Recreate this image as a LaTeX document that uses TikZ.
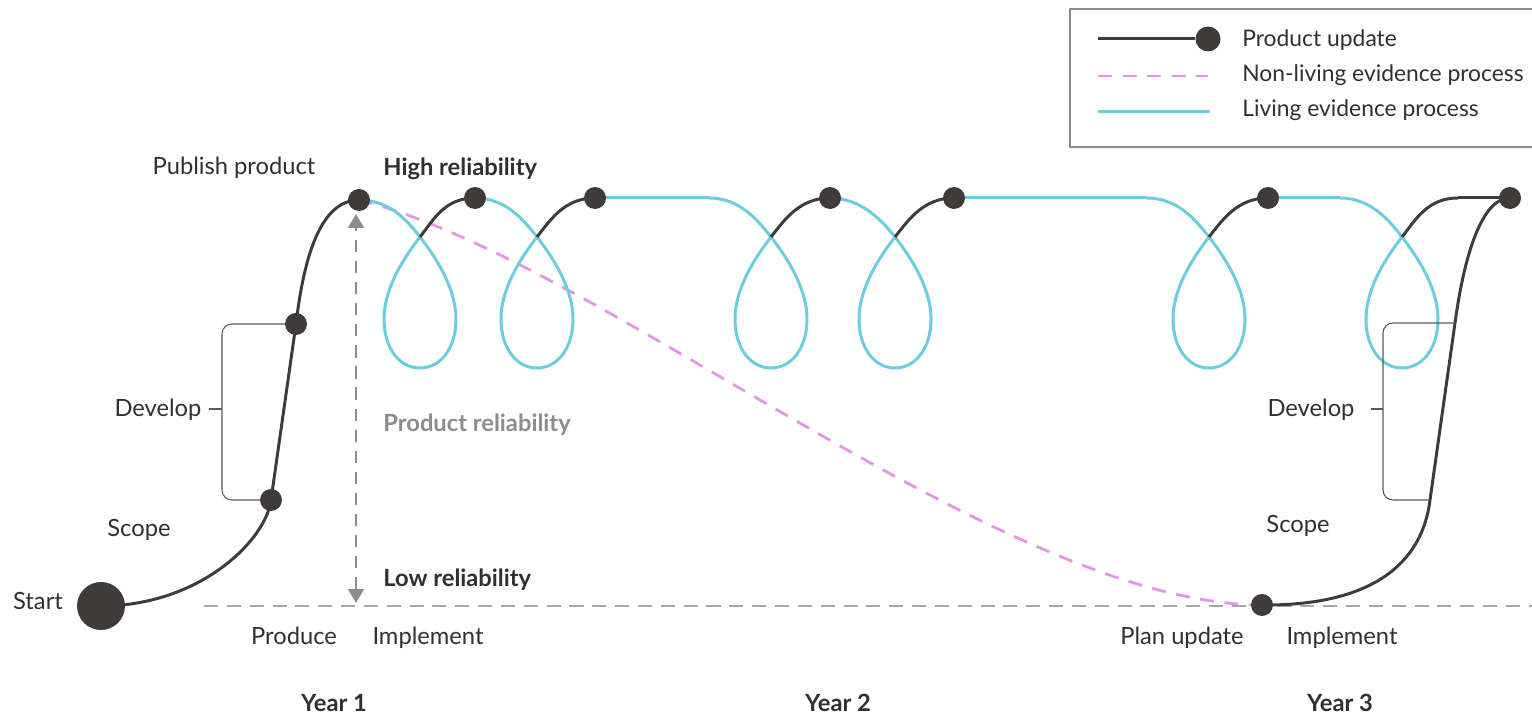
\documentclass[tikz,border=0pt]{standalone}
\usepackage{fontspec}
\setmainfont{Lato}
\usetikzlibrary{arrows.meta,calc}
\pgfdeclarelayer{back}
\pgfsetlayers{back,main}
\definecolor{inkdark}{RGB}{64,59,59}
\definecolor{livingblue}{RGB}{108,205,224}
\definecolor{nonlivingpink}{RGB}{228,150,226}
\definecolor{guidegray}{RGB}{168,168,168}
\definecolor{labelgray}{RGB}{140,140,140}

\begin{document}
\begin{tikzpicture}[x=0.02cm,y=-0.02cm,
        update/.style = {draw=inkdark, line width=1.7pt},
        living/.style = {draw=livingblue, line width=1.7pt},
        nonliving/.style = {draw=nonlivingpink, line width=1.6pt, dash pattern=on 8pt off 6pt},
        baseline/.style = {draw=guidegray, line width=1.1pt, dash pattern=on 8pt off 5pt},
        arrow/.style = {draw=labelgray, line width=1.1pt, dash pattern=on 7pt off 5pt,
            {Triangle[width=0.32cm,length=0.28cm]}-{Triangle[width=0.32cm,length=0.28cm]}},
        dot/.style = {circle, fill=inkdark, inner sep=0pt, minimum size=0.44cm},
        bracket/.style = {draw=inkdark!85, line width=0.6pt, rounded corners=0.2cm},
        lbl/.style = {anchor=base, inner sep=0pt, text=inkdark!80!black, font=\fontsize{13.5}{16}\selectfont},
        bold/.style = {lbl, font=\fontsize{13.5}{16}\selectfont\bfseries},
        key/.style = {lbl, anchor=base west, font=\fontsize{13}{16}\selectfont},
    ]
            \useasboundingbox (0,0) rectangle (1532,715);

            % Legend
            \draw[draw=labelgray, line width=0.8pt] (1070,9) rectangle (1536,147);
            \coordinate (l1a) at (1098,39);
            \node[dot, minimum size=0.5cm] (l1b) at (1208,39) {};
            \coordinate (l2a) at (1098,76);
            \coordinate (l2b) at (1208,76);
            \coordinate (l3a) at (1098,112);
            \coordinate (l3b) at (1210,112);
            \draw[update] (l1a) -- (l1b);
            \draw[nonliving] (l2a) -- (l2b);
            \draw[living] (l3a) -- (l3b);
            \node[key] (t1) at (1242,47) {Product update};
            \node[key] (t2) at (1242,82) {Non-living evidence process};
            \node[key] (t3) at (1242,117) {Living evidence process};

            % Product updates
            \node[dot, minimum size=0.96cm] (st) at (101,606) {};
            \node[dot] (sc) at (271,500) {};
            \node[dot] (dv) at (296,324) {};
            \node[dot] (d1) at (359,200) {};
            \node[dot] (d2) at (475,198) {};
            \node[dot] (d3) at (595,198) {};
            \node[dot] (d4) at (830,198) {};
            \node[dot] (d5) at (954,198) {};
            \node[dot] (d6) at (1268,198) {};
            \node[dot] (d7) at (1510,198) {};
            \node[dot] (pu) at (1262,605) {};

            % Loop crossings and ends of straight runs
            \coordinate (c1) at (420,237);
            \coordinate (c2) at (537,237);
            \coordinate (c3) at (771,237);
            \coordinate (c4) at (895,237);
            \coordinate (c5) at (1209,237);
            \coordinate (c6) at (1402,237);
            \coordinate (h3) at (709,198);
            \coordinate (h5) at (1147,198);
            \coordinate (h6) at (1340,198);
            \coordinate (k6) at (1458,198);

            % Reliability axis
            \coordinate (b0) at (204,606);
            \coordinate (b1) at (1532,606);
            \coordinate (hi) at (356,214);
            \coordinate (lo) at (356,603);
            \coordinate (lb) at (222,409);
            \coordinate (rt) at (1455,323);
            \coordinate (rb) at (1430,500);
            \coordinate (rk) at (1383,409);

            \begin{pgfonlayer}{back}
                \draw[baseline] (b0) -- (b1);
                \draw[arrow] (lo) -- (hi);
                \draw[nonliving] (d1.center) .. controls (600,260) and (1000,604) .. (pu.center);

                % First product
                \draw[update] (st.center) .. controls (200,606) and (266,540) .. (sc.center)
                    -- (dv.center) .. controls (303,265) and (318,200) .. (d1.center);

                % Living loops
                \foreach \a/\c/\b in {d1/c1/d2, d2/c2/d3, h3/c3/d4, d4/c4/d5, h5/c5/d6, h6/c6/k6} {
                    \draw[living] (\a.center) .. controls ($(\a.center)+(30,0)$) and ($(\c)+(-14,-18)$) .. (\c)
                        .. controls ($(\c)+(14,18)$) and ($(\c)+(36,50)$) .. ($(\c)+(36,82)$)
                        .. controls ($(\c)+(36,112)$) and ($(\c)+(20,131)$) .. ($(\c)+(0,131)$)
                        .. controls ($(\c)+(-20,131)$) and ($(\c)+(-36,112)$) .. ($(\c)+(-36,82)$)
                        .. controls ($(\c)+(-36,50)$) and ($(\c)+(-14,18)$) .. (\c);
                    \draw[update] (\c) .. controls ($(\c)+(14,-18)$) and ($(\b.center)+(-30,0)$) .. (\b.center);
                }
                \draw[living] (d3.center) -- (h3);
                \draw[living] (d5.center) -- (h5);
                \draw[living] (d6.center) -- (h6);
                \draw[update] (k6) -- (d7.center);

                % Planned update
                \draw[update] (pu.center) .. controls (1370,606) and (1422,565) .. (rb)
                    -- (rt) .. controls (1462,271) and (1478,198) .. (d7.center);

                % Brackets
                \draw[bracket] (dv.center) -| (lb) |- (sc.center);
                \draw[bracket] (lb) -- ++(-13,0);
                \draw[bracket] (rt) -| (rk) |- (rb);
                \draw[bracket] (rk) -- ++(-12,0);
            \end{pgfonlayer}

            % Labels
            \node[lbl] (lstart) at (38,610) {Start};
            \node[lbl] (lscope) at (139,537) {Scope};
            \node[lbl] (ldev) at (158,417) {Develop};
            \node[lbl] (lpub) at (234,175) {Publish product};
            \node[bold, anchor=base west] (lhigh) at (383,176) {High reliability};
            \node[bold, anchor=base west, text=labelgray] (lrel) at (383,432) {Product reliability};
            \node[bold, anchor=base west] (llow) at (383,587) {Low reliability};
            \node[lbl] (lprod) at (294,645) {Produce};
            \node[lbl] (limp) at (428,645) {Implement};
            \node[lbl] (lplan) at (1182,645) {Plan update};
            \node[lbl] (limp2) at (1342,645) {Implement};
            \node[lbl] (ldev2) at (1311,417) {Develop};
            \node[lbl] (lscope2) at (1298,533) {Scope};
            \node[bold] (y1) at (334,712) {Year 1};
            \node[bold] (y2) at (838,712) {Year 2};
            \node[bold] (y3) at (1340,712) {Year 3};
\end{tikzpicture}
\end{document}
